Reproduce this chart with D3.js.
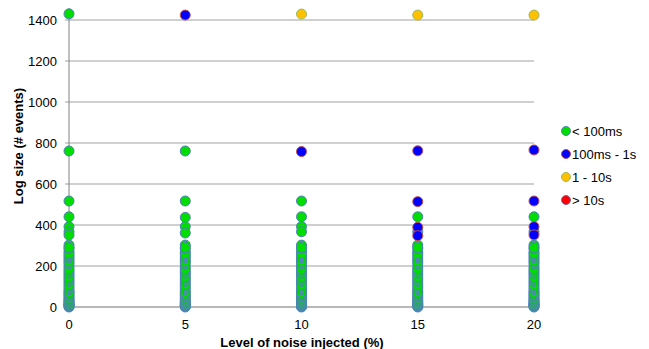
<!DOCTYPE html>
<html>
<head>
<meta charset="utf-8">
<script src="https://cdn.jsdelivr.net/npm/d3@7"></script>
<style>
  body { margin: 0; background: #fff; }
  svg { font-family: "Liberation Sans", Arial, sans-serif; }
</style>
</head>
<body>
<svg id="chart" width="649" height="349"></svg>
<script>
// noise levels on the x axis
const levels = [0, 5, 10, 15, 20];
const yTicks = [0, 200, 400, 600, 800, 1000, 1200, 1400];

// dense cluster of small logs, present at every level
const smallLogs = [0, 3, 6, 9, 12, 15, 22, 28, 34, 40, 48, 55, 62, 70, 85, 95,
  105, 125, 135, 145, 165, 175, 185, 210, 220, 240, 250, 260, 285, 290];

// one list of log sizes per noise level, per duration class
const under100ms = [
  [1430, 761, 517, 440, 392, 367, 351, 302, 270, 229, 197, 156, 115, 75, 18],
  [761, 517, 437, 392, 361, 302, 268, 229, 195, 156, 115, 75, 18],
  [517, 440, 392, 367, 302, 268, 229, 195, 156, 115, 75, 18],
  [440, 367, 302, 268, 229, 195, 156, 115, 75, 18],
  [440, 367, 302, 268, 229, 195, 156, 115, 75, 18]
];
const ms100to1s = [[], [1424], [758], [762, 514, 389, 348], [766, 517, 392, 352]];
const s1to10 = [[], [], [1429], [1424], [1424]];
const over10s = [[], [], [], [], []];

const series = [
  {name: '< 100ms', values: under100ms, fill: '#00dd00', stroke: '#4f81bd', extra: smallLogs},
  {name: '100ms - 1s', values: ms100to1s, fill: '#0000ff', stroke: '#c0504d', extra: []},
  {name: '1 - 10s', values: s1to10, fill: '#ffc000', stroke: '#9bbb59', extra: []},
  {name: '> 10s', values: over10s, fill: '#ff0000', stroke: '#8064a2', extra: []}
];

const svg = d3.select('#chart');
const x = d3.scaleLinear().domain([0, 20]).range([69, 534]);
const y = d3.scaleLinear().domain([0, 1400]).range([307, 20]);

// gridlines
svg.append('g')
  .selectAll('line')
  .data(yTicks.filter(d => d > 0))
  .enter().append('line')
  .attr('x1', x(0) - 4).attr('x2', x(20))
  .attr('y1', d => y(d)).attr('y2', d => y(d))
  .attr('stroke', '#c0c0c0').attr('stroke-width', 1.5);

// axes lines
svg.append('line')
  .attr('x1', x(0)).attr('x2', x(0)).attr('y1', y(1400) - 12).attr('y2', y(0))
  .attr('stroke', '#808080').attr('stroke-width', 1);
svg.append('line')
  .attr('x1', x(0) - 4).attr('x2', x(20)).attr('y1', y(0)).attr('y2', y(0))
  .attr('stroke', '#a0a0a0').attr('stroke-width', 1.5);

// tick labels
svg.append('g')
  .selectAll('text')
  .data(yTicks)
  .enter().append('text')
  .attr('x', 57).attr('y', d => y(d))
  .attr('dy', '0.35em')
  .attr('text-anchor', 'end')
  .attr('font-size', 13)
  .text(d => d);

svg.append('g')
  .selectAll('text')
  .data(levels)
  .enter().append('text')
  .attr('x', d => x(d)).attr('y', 324)
  .attr('dy', '0.35em')
  .attr('text-anchor', 'middle')
  .attr('font-size', 13)
  .text(d => d);

// axis titles
svg.append('text')
  .attr('x', 302).attr('y', 342)
  .attr('dy', '0.35em')
  .attr('text-anchor', 'middle')
  .attr('font-size', 13).attr('font-weight', 'bold')
  .text('Level of noise injected (%)');

svg.append('text')
  .attr('transform', 'translate(18,' + 146 + ') rotate(-90)')
  .attr('dy', '0.35em')
  .attr('text-anchor', 'middle')
  .attr('font-size', 13).attr('font-weight', 'bold')
  .text('Log size (# events)');

// points
series.forEach(s => {
  const pts = [];
  s.values.forEach((col, i) => {
    col.concat(s.extra).forEach(v => pts.push([levels[i], v]));
  });
  svg.append('g')
    .selectAll('circle')
    .data(pts)
    .enter().append('circle')
    .attr('cx', d => x(d[0]))
    .attr('cy', d => y(d[1]))
    .attr('r', 5)
    .attr('fill', s.fill)
    .attr('stroke', s.stroke)
    .attr('stroke-width', 1);
});

// legend
const legend = svg.append('g')
  .selectAll('g')
  .data(series)
  .enter().append('g')
  .attr('transform', (d, i) => 'translate(566,' + (131 + i * 23) + ')');
legend.append('circle')
  .attr('r', 4.5)
  .attr('fill', d => d.fill)
  .attr('stroke', d => d.stroke);
legend.append('text')
  .attr('x', 6).attr('dy', '0.35em')
  .attr('font-size', 13)
  .text(d => d.name);
</script>
</body>
</html>
